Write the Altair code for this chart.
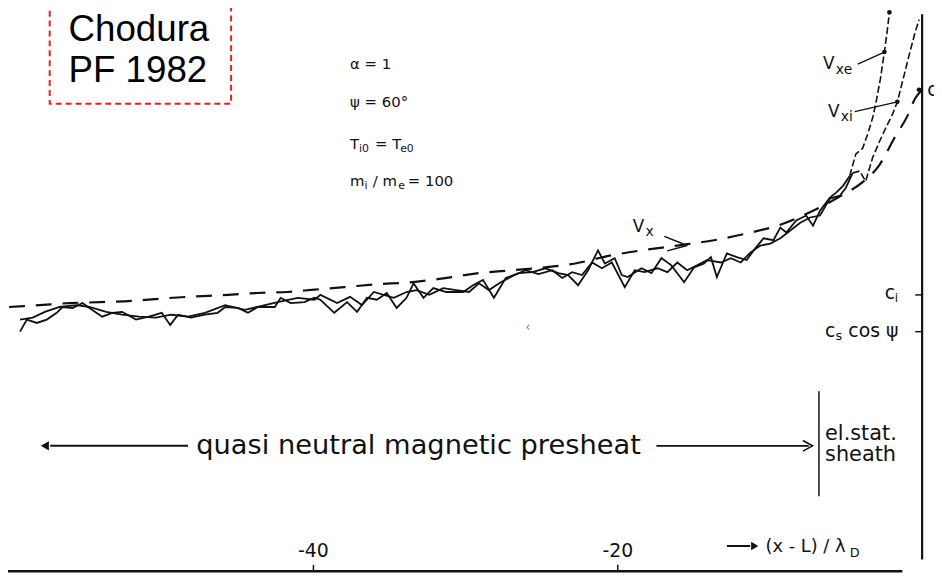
import altair as alt
import pandas as pd

# x axis: (x - L) / lambda_D ; y: velocity in units of c_s (c = 1)
vx_x = [-60.0, -57.98, -56.03, -54.07, -51.79, -50.16, -48.21, -45.60, -43.65, -41.69, -39.93,
        -37.98, -35.83, -33.68, -31.73, -29.12, -26.91, -24.76, -22.80, -20.39, -18.44, -16.09,
        -13.68, -11.27, -9.32, -7.17, -5.21, -3.91, -2.80, -1.76, -0.98, -0.46, 0.0]
vx_v = [0.551, 0.555, 0.559, 0.561, 0.564, 0.568, 0.572, 0.576, 0.580, 0.582, 0.587,
        0.592, 0.598, 0.602, 0.609, 0.621, 0.627, 0.633, 0.641, 0.658, 0.668, 0.678,
        0.689, 0.705, 0.721, 0.750, 0.783, 0.809, 0.845, 0.904, 0.945, 0.982, 1.0]

vxe_x = [-59.28, -58.83, -58.18, -57.52, -56.87, -56.48, -55.83, -55.18, -54.53, -53.88, -53.22,
         -52.57, -51.66, -50.81, -49.97, -49.41, -48.89, -48.05, -47.13, -46.29, -45.80, -44.95,
         -44.30, -43.65, -42.54, -42.15, -41.50, -40.59, -39.93, -39.54, -38.63, -37.79, -37.13,
         -36.48, -35.83, -35.18, -34.53, -33.88, -33.42, -32.77, -32.12, -31.27, -30.16, -29.51,
         -28.86, -28.14, -27.36, -26.51, -25.60, -24.76, -23.91, -23.26, -22.61, -21.95, -21.30,
         -20.85, -20.20, -19.74, -19.35, -18.44, -17.79, -17.13, -16.48, -15.64, -14.98, -14.33,
         -13.88, -13.49, -12.83, -12.18, -11.53, -11.07, -10.42, -9.77, -9.32, -8.93, -8.27,
         -7.62, -7.17, -6.71, -6.06, -5.67, -5.21, -4.76, -4.36, -3.91, -3.58, -3.26, -3.06,
         -2.74, -2.48, -2.28, -2.15]
vxe_v = [0.500, 0.525, 0.518, 0.525, 0.539, 0.551, 0.549, 0.559, 0.545, 0.531, 0.539,
         0.541, 0.525, 0.531, 0.539, 0.514, 0.535, 0.529, 0.535, 0.539, 0.551, 0.549,
         0.539, 0.551, 0.551, 0.570, 0.559, 0.561, 0.570, 0.566, 0.539, 0.561, 0.541,
         0.570, 0.566, 0.580, 0.549, 0.570, 0.600, 0.570, 0.590, 0.582, 0.582, 0.596,
         0.607, 0.570, 0.611, 0.621, 0.623, 0.631, 0.621, 0.617, 0.596, 0.627, 0.668,
         0.641, 0.652, 0.617, 0.613, 0.631, 0.621, 0.652, 0.637, 0.602, 0.633, 0.641,
         0.654, 0.613, 0.662, 0.654, 0.648, 0.668, 0.693, 0.689, 0.715, 0.705, 0.730,
         0.740, 0.719, 0.750, 0.777, 0.787, 0.801, 0.822, 0.867, 0.879, 0.908, 0.941, 0.969,
         1.023, 1.078, 1.125, 1.160]

vxi_x = [-59.28, -58.44, -57.65, -56.68, -55.57, -54.72, -53.62, -52.57, -51.47, -50.36, -49.35,
         -48.24, -47.13, -45.80, -44.50, -43.19, -42.35, -41.04, -39.93, -39.54, -38.44, -37.59,
         -36.81, -36.03, -34.72, -33.88, -33.22, -32.38, -31.47, -30.62, -29.77, -29.12, -28.47,
         -27.69, -26.91, -26.06, -25.21, -24.30, -23.65, -23.00, -22.35, -21.69, -21.04, -20.39,
         -19.54, -18.89, -18.24, -17.39, -16.74, -16.09, -15.44, -14.79, -14.14, -13.22, -12.57,
         -11.92, -11.27, -10.62, -9.97, -9.32, -8.66, -8.01, -7.36, -6.71, -6.06, -5.41, -5.02,
         -4.56, -4.10, -3.71, -3.26, -2.80, -2.41, -1.95, -1.63, -1.30, -0.85, -0.46, -0.20]
vxi_v = [0.525, 0.529, 0.541, 0.551, 0.555, 0.551, 0.541, 0.535, 0.531, 0.529, 0.535,
         0.531, 0.539, 0.555, 0.545, 0.555, 0.561, 0.570, 0.566, 0.576, 0.559, 0.572,
         0.555, 0.582, 0.570, 0.582, 0.586, 0.576, 0.590, 0.586, 0.582, 0.600, 0.586,
         0.602, 0.615, 0.627, 0.619, 0.627, 0.611, 0.623, 0.617, 0.643, 0.631, 0.643,
         0.592, 0.627, 0.623, 0.631, 0.623, 0.643, 0.627, 0.637, 0.648, 0.643, 0.652,
         0.643, 0.664, 0.678, 0.682, 0.693, 0.709, 0.725, 0.736, 0.740, 0.775, 0.781, 0.797,
         0.828, 0.832, 0.811, 0.859, 0.893, 0.920, 0.949, 0.975, 1.016, 1.072, 1.119, 1.145]

x_tick_vals = [-40, -20]
x_tick_labels = ["-40", "-20"]
y_tick_vals = [1.0, 0.576, 0.5]

X_DOM = [-60.07, 0.78]
Y_DOM = [0.0, 1.164]
W, H = 934, 568
INK = "#111111"

xs = alt.Scale(domain=X_DOM, nice=False, zero=False)
ys = alt.Scale(domain=Y_DOM, nice=False, zero=False)


def enc(xf="x", yf="v"):
    return dict(x=alt.X(f"{xf}:Q", scale=xs, axis=None), y=alt.Y(f"{yf}:Q", scale=ys, axis=None))


def line_df(xv, yv):
    return pd.DataFrame({"x": xv, "v": yv, "i": range(len(xv))})


df_vx = line_df(vx_x, vx_v)
df_vxe = line_df(vxe_x, vxe_v)
df_vxi = line_df(vxi_x, vxi_v)

layers = []

# smooth dashed Vx curve
layers.append(alt.Chart(df_vx).mark_line(color=INK, strokeWidth=2.2, strokeDash=[16, 11],
                                         interpolate="monotone")
              .encode(order="i:Q", **enc()))

# noisy simulated curves: solid in the presheath, broken in the steep part
for df in (df_vxe, df_vxi):
    layers.append(alt.Chart(df).transform_filter("datum.x <= -4.5")
                  .mark_line(color=INK, strokeWidth=1.8).encode(order="i:Q", **enc()))
    layers.append(alt.Chart(df).transform_filter("datum.x >= -4.8")
                  .mark_line(color=INK, strokeWidth=1.6, strokeDash=[7, 3]).encode(order="i:Q", **enc()))

# rules (axes, arrows, leaders)
rules = pd.DataFrame([
    # x, x2, v, v2, w
    (-60.07, -1.3, 0.005, 0.005, 2.5),     # bottom axis
    (0.0, 0.0, 0.029, 1.156, 2.2),         # right axis
    (-40, -40, 0.005, 0.018, 1.5),
    (-20, -20, 0.005, 0.018, 1.5),
    (-0.45, 0.0, 0.576, 0.576, 1.5),
    (-0.45, 0.0, 0.5, 0.5, 1.5),
    (-0.35, 0.0, 1.0, 1.0, 1.5),
    (-57.3, -48.24, 0.264, 0.264, 2.0),    # left arrow
    (-17.46, -7.45, 0.264, 0.264, 1.8),    # right arrow
    (-6.78, -6.78, 0.160, 0.377, 1.5),     # sheath boundary
    (-12.83, -11.3, 0.057, 0.057, 2.0),    # axis-label arrow
    (-4.23, -2.48, 1.053, 1.078, 1.3),     # Vxe leader
    (-4.43, -1.63, 0.955, 0.975, 1.3),     # Vxi leader
    (-16.94, -15.44, 0.697, 0.678, 1.5),   # Vx leader
    (-16.75, -15.44, 0.667, 0.678, 1.5),
], columns=["x", "x2", "v", "v2", "w"])
layers.append(alt.Chart(rules).mark_rule(color=INK).encode(
    x2="x2:Q", y2="v2:Q", strokeWidth=alt.StrokeWidth("w:Q", scale=None), **enc()))

# arrow heads
heads = pd.DataFrame({"x": [-57.65, -11.0], "v": [0.264, 0.057], "s": ["triangle-left", "triangle-right"],
                      "z": [90, 70]})
layers.append(alt.Chart(heads).mark_point(filled=True, color=INK, opacity=1).encode(
    shape=alt.Shape("s:N", scale=None), size=alt.Size("z:Q", scale=None), **enc()))
layers.append(alt.Chart(pd.DataFrame({"x": [-7.2], "v": [0.264]})).mark_point(
    shape="M-1,-0.55L0,0L-1,0.55", size=380, filled=False, color=INK, strokeWidth=1.6, opacity=1
).encode(**enc()))

# dots on curves
dots = pd.DataFrame({"x": [-2.15, -2.48, -1.63, -0.2], "v": [1.160, 1.078, 0.975, 1.0]})
layers.append(alt.Chart(dots).mark_point(filled=True, color=INK, size=22, opacity=1).encode(**enc()))

# Chodura box
box = pd.DataFrame({"x": [-57.33], "x2": [-45.41], "v": [0.971], "v2": [1.25]})
layers.append(alt.Chart(box).mark_rect(fillOpacity=0, stroke="#ee1c1c", strokeWidth=2,
                                       strokeDash=[6, 4]).encode(x2="x2:Q", y2="v2:Q", **enc()))


def text_layer(rows, size, font="DejaVu Sans", align="left", color=INK):
    df = pd.DataFrame(rows, columns=["x", "v", "t"])
    return alt.Chart(df).mark_text(fontSize=size, font=font, align=align, baseline="middle",
                                   color=color).encode(text="t:N", **enc())


def sized_text(rows):
    # rows of (x, v, text, fontsize), all left aligned
    df = pd.DataFrame(rows, columns=["x", "v", "t", "fs"])
    return alt.Chart(df).mark_text(font="DejaVu Sans", align="left", baseline="middle", color=INK).encode(
        text="t:N", size=alt.Size("fs:Q", scale=None), **enc())


layers.append(text_layer([(-56.09, 1.124, "Chodura"), (-56.09, 1.039, "PF 1982")], 37,
                         font="Liberation Sans", color="#000000"))

# parameter block (main text + subscripts)
layers.append(sized_text([
    (-37.59, 1.053, "α = 1", 15),
    (-37.59, 0.975, "ψ = 60°", 15),
    (-37.59, 0.887, "T", 15), (-37.00, 0.877, "i0", 11), (-35.95, 0.887, "= T", 15),
    (-34.30, 0.877, "e0", 11),
    (-37.59, 0.811, "m", 15), (-36.65, 0.801, "i", 11), (-36.10, 0.811, "/ m", 15),
    (-34.43, 0.801, "e", 11), (-33.80, 0.811, "= 100", 15),
    # curve labels
    (-6.51, 1.053, "V", 17), (-5.67, 1.041, "xe", 14),
    (-6.19, 0.955, "V", 17), (-5.34, 0.943, "xi", 14),
    (-19.02, 0.717, "V", 17), (-18.18, 0.705, "x", 14),
    # right axis labels
    (-2.45, 0.580, "c", 19), (-1.80, 0.569, "i", 12),
    (-6.38, 0.502, "c", 19), (-5.70, 0.490, "s", 13), (-4.85, 0.502, "cos ψ", 19),
    (0.33, y_tick_vals[0], "c", 19),
    # axis title
    (-10.29, 0.055, "(x - L) / λ", 18), (-4.75, 0.043, "D", 13),
]))

layers.append(text_layer([(-33.09, 0.264, "quasi neutral magnetic presheat")], 27.5, align="center"))
layers.append(text_layer([(-6.38, 0.289, "el.stat."), (-6.38, 0.244, "sheath")], 21))
layers.append(text_layer([(xv, 0.047, t) for xv, t in zip(x_tick_vals, x_tick_labels)], 19, align="center"))
layers.append(text_layer([(-26.06, 0.510, "‹")], 12, color="#777777"))

chart = alt.layer(*layers).properties(
    width=W, height=H, autosize=alt.AutoSizeParams(type="none"), padding=0,
    background="white",
).configure_view(strokeWidth=0)

chart.save("out.html", embed_options={"renderer": "svg", "actions": False})
